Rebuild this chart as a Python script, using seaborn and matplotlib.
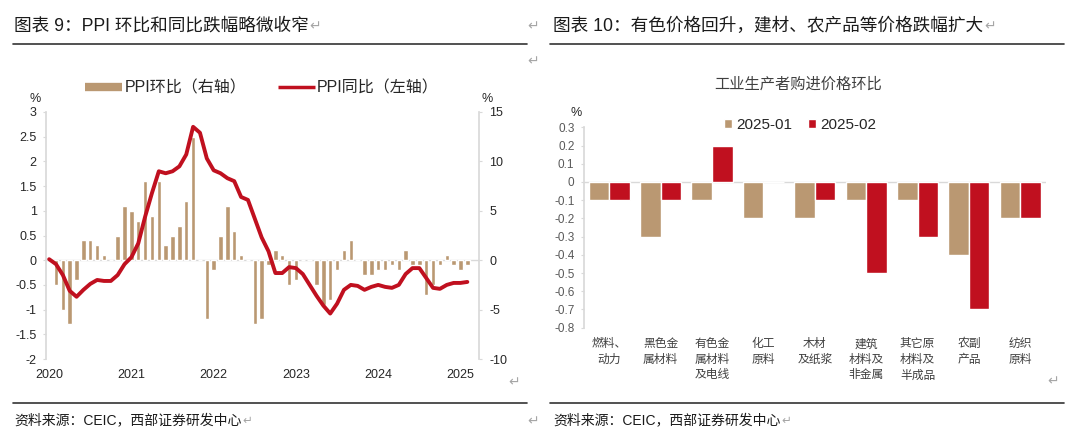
import numpy as np
import pandas as pd
import matplotlib
matplotlib.use("Agg")
import matplotlib.pyplot as plt
import seaborn as sns
from matplotlib.lines import Line2D

# ---------------- data ----------------
months = pd.date_range("2020-01", periods=62, freq="MS").strftime("%Y-%m").tolist()
ppi_mom = [0.0, -0.5, -1.0, -1.3, -0.4, 0.4, 0.4, 0.3, 0.1, 0.0, 0.5, 1.1,
           1.0, 0.8, 1.6, 0.9, 1.6, 0.3, 0.5, 0.7, 1.2, 2.5, 0.0, -1.2,
           -0.2, 0.5, 1.1, 0.6, 0.1, 0.0, -1.3, -1.2, -0.1, 0.2, 0.1, -0.5,
           -0.4, 0.0, 0.0, -0.5, -0.9, -0.8, -0.2, 0.2, 0.4, 0.0, -0.3, -0.3,
           -0.2, -0.2, -0.1, -0.2, 0.2, -0.1, -0.1, -0.7, -0.5, -0.1, 0.1, -0.1,
           -0.2, -0.1]
ppi_yoy = [0.1, -0.4, -1.5, -3.1, -3.7, -3.0, -2.4, -2.0, -2.1, -2.1, -1.5, -0.4,
           0.3, 1.7, 4.4, 6.8, 9.0, 8.8, 9.0, 9.5, 10.7, 13.5, 12.9, 10.3,
           9.1, 8.8, 8.3, 8.0, 6.4, 6.1, 4.2, 2.3, 0.9, -1.3, -1.3, -0.7,
           -0.8, -1.4, -2.5, -3.6, -4.6, -5.4, -4.4, -3.0, -2.5, -2.6, -3.0, -2.7,
           -2.5, -2.7, -2.8, -2.5, -1.4, -0.8, -0.8, -1.8, -2.8, -2.9, -2.5, -2.3,
           -2.3, -2.2]
year_labels = ["2020", "2021", "2022", "2023", "2024", "2025"]
left_legend = ["PPI环比（右轴）", "PPI同比（左轴）"]

categories = ["燃料、动力", "黑色金属材料", "有色金属材料及电线", "化工原料", "木材及纸浆",
              "建筑材料及非金属", "其它原材料及半成品", "农副产品", "纺织原料"]
cat_labels = ["燃料、\n动力", "黑色金\n属材料", "有色金\n属材料\n及电线", "化工\n原料", "木材\n及纸浆",
              "建筑\n材料及\n非金属", "其它原\n材料及\n半成品", "农副\n产品", "纺织\n原料"]
series_names = ["2025-01", "2025-02"]
val_jan = [-0.1, -0.3, -0.1, -0.2, -0.2, -0.1, -0.1, -0.4, -0.2]
val_feb = [-0.1, -0.1, 0.2, 0.0, -0.1, -0.5, -0.3, -0.7, -0.2]

title_left = "图表 9：PPI 环比和同比跌幅略微收窄"
title_right = "图表 10：有色价格回升，建材、农产品等价格跌幅扩大"
chart_title_right = "工业生产者购进价格环比"
source_text = "资料来源：CEIC，西部证券研发中心"

# ---------------- style ----------------
sns.set_theme(style="white")
FAM = ["Liberation Sans", "Noto Sans CJK SC", "DejaVu Sans"]
plt.rcParams["font.family"] = FAM
plt.rcParams["axes.unicode_minus"] = False

TAN = "#BA9872"
RED = "#C0101F"
GRID = "#D9D9D9"
RET = "#A6A6A6"

W, H = 1080, 437
fig = plt.figure(figsize=(W / 100, H / 100), dpi=100)
fig.patch.set_facecolor("white")


def fy(y):
    return 1 - y / H


# ---------------- left chart ----------------
ax = fig.add_axes([45.7 / W, fy(359), (479 - 45.7) / W, (359 - 112) / H])
df_left = pd.DataFrame({"month": months, "mom": ppi_mom, "yoy": ppi_yoy})
df_left["pos"] = np.arange(len(df_left))
sns.barplot(data=df_left, x="month", y="mom", order=months, color=TAN,
            saturation=1, width=0.65, ax=ax, zorder=2)
ax.axhline(0, color=GRID, lw=1, zorder=1)
ax.set_xlim(-0.5, 62.7)
ax.set_ylim(-2, 3)
lticks = np.arange(-2, 3.01, 0.5)
ax.set_yticks(lticks)
ax.set_yticklabels([f"{t:g}" for t in lticks])
ax.set_xticks(df_left["pos"][::12].tolist())
ax.set_xticklabels(year_labels)
ax.set_xlabel("")
ax.set_ylabel("")
ax.tick_params(axis="x", length=0, pad=7, labelsize=9, labelcolor="#262626")
ax.tick_params(axis="y", length=2.5, width=0.8, color=GRID, pad=4,
               labelsize=9, labelcolor="#262626", left=True)
for s in ["top", "bottom", "right"]:
    ax.spines[s].set_visible(False)
ax.spines["left"].set_color(GRID)

ax2 = ax.twinx()
sns.lineplot(data=df_left, x="pos", y="yoy", color=RED, lw=2.8, ax=ax2,
             solid_joinstyle="round", solid_capstyle="round")
ax2.set_ylim(-10, 15)
ax2.set_yticks(np.arange(-10, 15.1, 5))
ax2.set_yticklabels([f"{t:g}" for t in np.arange(-10, 15.1, 5)])
ax2.set_xlim(-0.5, 62.7)
ax2.set_xlabel("")
ax2.set_ylabel("")
ax2.tick_params(axis="y", length=2.5, width=0.8, color=GRID, pad=5,
                labelsize=9, labelcolor="#262626", right=True)
for s in ["top", "bottom", "left"]:
    ax2.spines[s].set_visible(False)
ax2.spines["right"].set_color(GRID)

handles = [Line2D([], [], color=TAN, lw=6, solid_capstyle="butt"),
           Line2D([], [], color=RED, lw=2.5, solid_capstyle="butt")]
fig.legend(handles=handles, labels=left_legend, loc="center",
           bbox_to_anchor=(262 / W, fy(88)), ncol=2, frameon=False,
           fontsize=11.5, handlelength=2.3, handletextpad=0.15,
           columnspacing=2.0, labelcolor="#262626")

fig.text(35 / W, fy(99), "%", fontsize=9, ha="center", va="center", color="#262626")
fig.text(487 / W, fy(99), "%", fontsize=9, ha="center", va="center", color="#262626")

# ---------------- right chart ----------------
axr = fig.add_axes([583.5 / W, fy(327.7), 462.5 / W, 200.4 / H])
df_right = pd.DataFrame({
    "cat": categories * 2,
    "val": val_jan + val_feb,
    "month": [series_names[0]] * len(categories) + [series_names[1]] * len(categories),
})
sns.barplot(data=df_right, x="cat", y="val", hue="month", order=categories,
            hue_order=series_names, palette=[TAN, RED], saturation=1,
            width=0.8, ax=axr, zorder=2)
axr.axhline(0, color=GRID, lw=1, zorder=1)
axr.set_xlim(-0.5, 8.5)
axr.set_ylim(-0.8, 0.3)
rticks = np.round(np.arange(-0.8, 0.31, 0.1), 1)
axr.set_yticks(rticks)
axr.set_yticklabels(["0" if abs(t) < 1e-9 else f"{t:.1f}" for t in rticks])
axr.set_xticks(range(len(categories)))
axr.set_xticklabels(cat_labels, fontsize=8.5, color="#404040", linespacing=1.25,
                    family=["Noto Sans CJK SC", "DejaVu Sans"])
axr.set_xlabel("")
axr.set_ylabel("")
axr.tick_params(axis="x", length=0, pad=7)
axr.tick_params(axis="y", length=2.5, width=0.8, color=GRID, pad=4,
                labelsize=8.5, labelcolor="#595959", left=True)
for s in ["top", "bottom", "right"]:
    axr.spines[s].set_visible(False)
axr.spines["left"].set_color(GRID)
h, l = axr.get_legend_handles_labels()
axr.legend(handles=h, labels=l, loc="center", bbox_to_anchor=(0.468, 1.013),
           ncol=2, frameon=False, fontsize=11, handlelength=0.55,
           handleheight=0.55, handletextpad=0.25, columnspacing=1.0,
           labelcolor="#262626")
fig.text(798 / W, fy(84), chart_title_right, fontsize=11, ha="center",
         va="center", color="#404040")
fig.text(576 / W, fy(113), "%", fontsize=9, ha="center", va="center", color="#262626")

# ---------------- page furniture ----------------
t1 = fig.text(14 / W, fy(26), title_left, fontsize=12.7, va="center", color="#1A1A1A")
t2 = fig.text(553 / W, fy(26), title_right, fontsize=12.7, va="center", color="#1A1A1A")
s1 = fig.text(14 / W, fy(420), source_text, fontsize=10, va="center", color="#1A1A1A")
s2 = fig.text(553 / W, fy(420), source_text, fontsize=10, va="center", color="#1A1A1A")

for x0, x1 in [(13, 527), (550, 1064)]:
    for yy in [43.5, 402.5]:
        fig.add_artist(Line2D([x0 / W, x1 / W], [fy(yy), fy(yy)], color="#333333",
                              lw=1.2, transform=fig.transFigure))

fig.canvas.draw()
r = fig.canvas.get_renderer()
for t, sz in [(t1, 10), (t2, 10), (s1, 8.5), (s2, 8.5)]:
    bb = t.get_window_extent(renderer=r)
    fig.text((bb.x1 + 1) / W, (bb.y0 + bb.y1) / 2 / H, "↵", fontsize=sz,
             va="center", color=RET, family=["DejaVu Sans"])

for (x, y) in [(533, 26), (533, 61), (514, 382), (533, 421), (1053, 381)]:
    fig.text(x / W, fy(y), "↵", fontsize=10, ha="center", va="center",
             color=RET, family=["DejaVu Sans"])

fig.savefig("out.png", dpi=100, facecolor="white")
